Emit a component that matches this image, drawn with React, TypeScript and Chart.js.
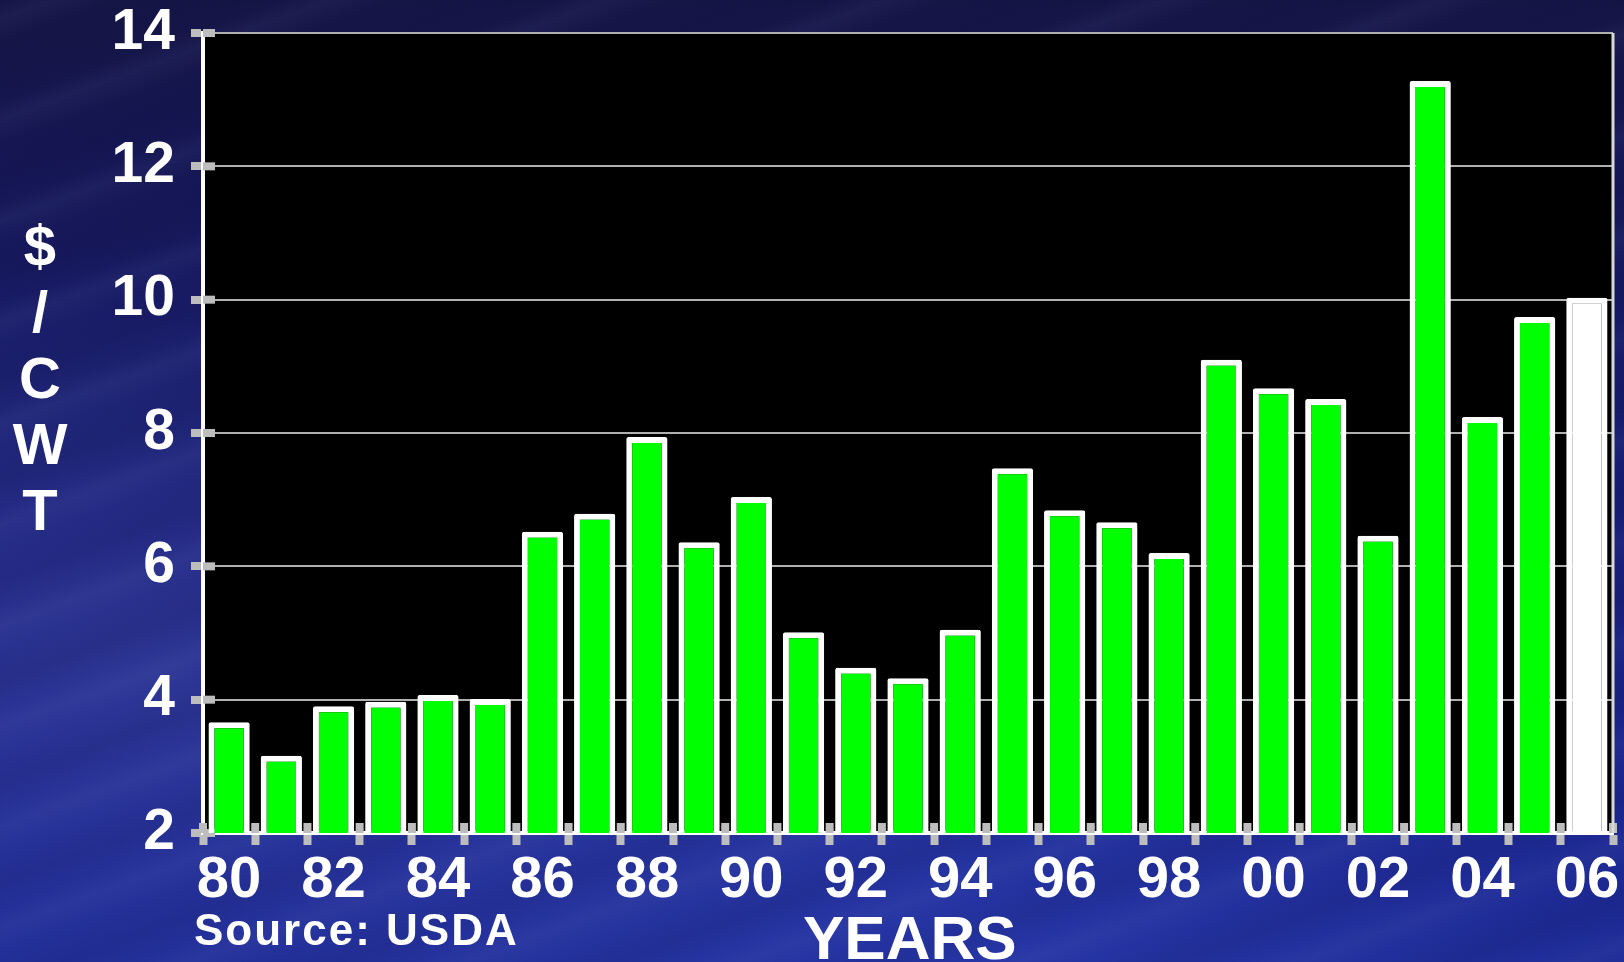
import React, { useEffect, useRef } from "react";
import Chart from "chart.js/auto";

const years = ["80","81","82","83","84","85","86","87","88","89","90","91","92","93","94","95","96","97","98","99","00","01","02","03","04","05","06"];
const pricePerCwt = [3.66,3.16,3.9,3.97,4.07,4.01,6.52,6.79,7.94,6.36,7.04,5.01,4.48,4.32,5.05,7.47,6.84,6.66,6.2,9.1,8.67,8.51,6.46,13.28,8.24,9.74,10.03];
const projectedYears = ["06"];
const yTicks = [2, 4, 6, 8, 10, 12, 14];
const yTitleLetters = ["$", "/", "C", "W", "T"];
const sourceText = "Source: USDA";
const xTitle = "YEARS";

const FONT = '"Liberation Sans", Arial, Helvetica, sans-serif';
const TICK_GRAY = "#bdbdbd";

export default function App() {
  const canvasRef = useRef<HTMLCanvasElement | null>(null);

  useEffect(() => {
    const canvas = canvasRef.current;
    if (!canvas) return;

    const plotFrame = {
      id: "plotFrame",
      beforeDraw(chart: any) {
        const { ctx, chartArea: a } = chart;
        ctx.save();
        ctx.fillStyle = "#000000";
        ctx.fillRect(a.left, a.top, a.right - a.left, a.bottom - a.top);
        ctx.restore();
      },
      beforeDatasetsDraw(chart: any) {
        const { ctx, chartArea: a } = chart;
        const xs = chart.scales.x;
        const ys = chart.scales.y;
        ctx.save();
        ctx.fillStyle = TICK_GRAY;
        const n = years.length;
        const step = (xs.right - xs.left) / n;
        for (let i = 0; i <= n; i++) {
          const x = xs.left + i * step;
          ctx.fillRect(x - 4, a.bottom - 10, 8, 10);
        }
        for (const v of yTicks) {
          const y = ys.getPixelForValue(v);
          ctx.fillRect(a.left, y - 4, 12, 8);
        }
        ctx.restore();
      },
      afterDraw(chart: any) {
        const { ctx, chartArea: a } = chart;
        ctx.save();
        ctx.strokeStyle = "#d8d8d8";
        ctx.lineWidth = 3;
        ctx.beginPath();
        ctx.moveTo(a.right, a.top);
        ctx.lineTo(a.right, a.bottom);
        ctx.stroke();
        ctx.restore();
      },
    };

    const chart = new Chart(canvas, {
      type: "bar",
      data: {
        labels: years,
        datasets: [
          {
            data: pricePerCwt,
            backgroundColor: years.map((y) => (projectedYears.includes(y) ? "#ffffff" : "#00ff00")),
            borderColor: "#ffffff",
            borderWidth: 6,
            borderRadius: 2,
            borderSkipped: false,
            barPercentage: 0.79,
            categoryPercentage: 1,
          },
        ],
      },
      options: {
        animation: false,
        responsive: false,
        devicePixelRatio: 1,
        layout: { padding: { top: 33, right: 11, left: 0, bottom: 0 } },
        plugins: { legend: { display: false }, tooltip: { enabled: false }, title: { display: false } },
        scales: {
          x: {
            afterFit(scale: any) {
              scale.height = 129;
              scale.paddingLeft = 0;
              scale.paddingRight = 0;
            },
            grid: {
              offset: true,
              drawOnChartArea: false,
              drawTicks: true,
              tickLength: 12,
              tickWidth: 8,
              tickColor: TICK_GRAY,
            },
            border: { color: "#ffffff", width: 4 },
            ticks: {
              autoSkip: false,
              maxRotation: 0,
              minRotation: 0,
              padding: 1,
              color: "#ffffff",
              font: { family: FONT, size: 58, weight: "bold" },
              callback: (_v: any, i: number) => (i % 2 === 0 ? years[i] : ""),
            },
          },
          y: {
            min: yTicks[0],
            max: yTicks[yTicks.length - 1],
            afterFit(scale: any) {
              scale.width = 203;
              scale.paddingTop = 0;
              scale.paddingBottom = 0;
            },
            afterBuildTicks(scale: any) {
              scale.ticks = yTicks.map((v) => ({ value: v }));
            },
            grid: {
              color: "#b0b0b0",
              lineWidth: 2,
              drawTicks: true,
              tickLength: 12,
              tickWidth: 8,
              tickColor: TICK_GRAY,
            },
            border: { color: "#ffffff", width: 4 },
            ticks: {
              padding: 16,
              color: "#ffffff",
              font: { family: FONT, size: 57, weight: "bold" },
            },
          },
        },
      },
      plugins: [plotFrame],
    } as any);

    return () => chart.destroy();
  }, []);

  const textBase: React.CSSProperties = {
    position: "absolute",
    color: "#ffffff",
    fontFamily: FONT,
    fontWeight: "bold",
    whiteSpace: "nowrap",
    margin: 0,
  };

  return (
    <div
      style={{
        position: "fixed",
        left: 0,
        top: 0,
        width: 1624,
        height: 962,
        overflow: "hidden",
        background:
          "repeating-linear-gradient(160deg, rgba(120,130,200,0.0) 0px, rgba(120,130,200,0.08) 18px, rgba(120,130,200,0.0) 40px, rgba(10,10,60,0.10) 70px, rgba(120,130,200,0.0) 95px)," +
          "radial-gradient(ellipse at 10% 70%, rgba(90,100,190,0.3), rgba(0,0,0,0) 45%)," +
          "radial-gradient(ellipse at 60% 100%, rgba(60,80,200,0.3), rgba(0,0,0,0) 55%)," +
          "linear-gradient(to bottom, #151545 0%, #161960 30%, #181f7c 60%, #1b268e 85%, #1d2a96 100%)",
      }}
    >
      <canvas ref={canvasRef} width={1624} height={962} style={{ position: "absolute", left: 0, top: 0 }} />
      <div style={{ ...textBase, left: 0, top: 213, width: 80, textAlign: "center", fontSize: 58, lineHeight: "66px" }}>
        {yTitleLetters.map((c, i) => (
          <div key={i}>{c}</div>
        ))}
      </div>
      <div style={{ ...textBase, left: 194, top: 908, fontSize: 44, lineHeight: "44px", letterSpacing: "2px" }}>{sourceText}</div>
      <div style={{ ...textBase, left: 803, top: 907, fontSize: 62, lineHeight: "62px" }}>{xTitle}</div>
    </div>
  );
}
